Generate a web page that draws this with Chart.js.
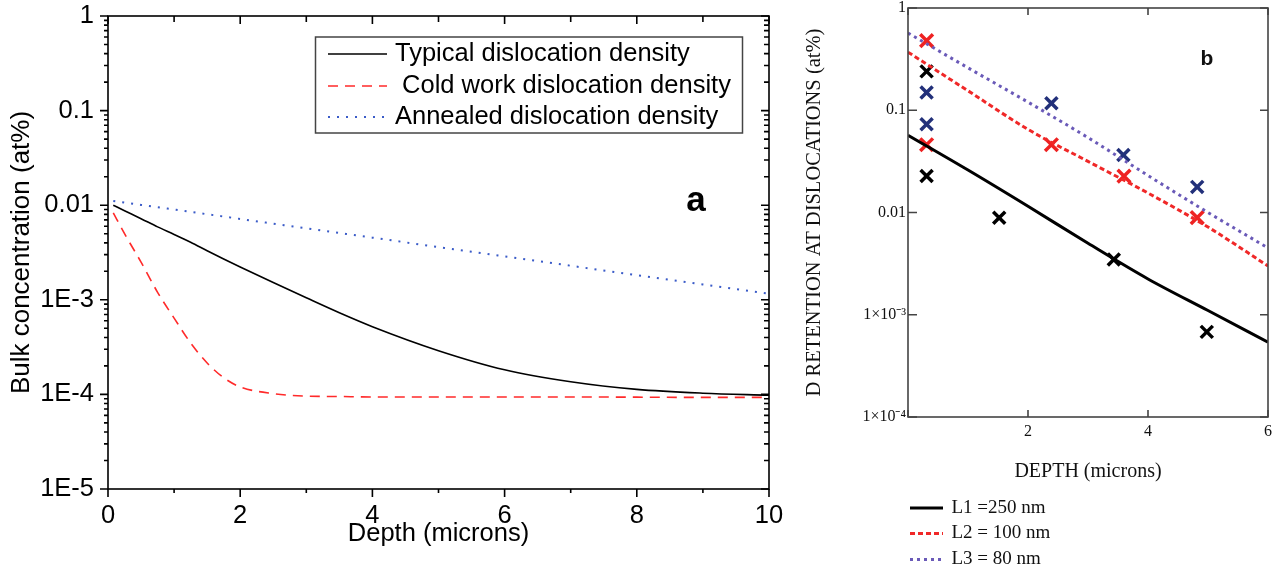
<!DOCTYPE html>
<html>
<head>
<meta charset="utf-8">
<script src="https://cdn.jsdelivr.net/npm/chart.js@4.4.1/dist/chart.umd.min.js"></script>
<style>
  body { margin: 0; background: #fff; }
  #chartA { position: absolute; left: 0; top: 0; }
  #chartB { position: absolute; left: 790px; top: 0; }
</style>
</head>
<body>
<canvas id="chartA" width="790" height="575"></canvas>
<canvas id="chartB" width="495" height="575"></canvas>
<script>
// panel a: bulk concentration vs depth
const depthA = [0.08, 0.25, 0.5, 0.75, 1, 1.25, 1.5, 1.75, 2, 2.5, 3, 3.5, 4, 5, 6, 7, 8, 9, 10];
const typicalConc = [1.0e-2, 8.75e-3, 7.2e-3, 5.9e-3, 4.9e-3, 4.05e-3, 3.3e-3, 2.7e-3, 2.22e-3, 1.52e-3, 1.05e-3, 7.3e-4, 5.2e-4, 2.9e-4, 1.82e-4, 1.36e-4, 1.13e-4, 1.03e-4, 9.8e-5];
const coldWorkConc = [8.3e-3, 5.0e-3, 2.5e-3, 1.2e-3, 6.4e-4, 3.5e-4, 2.15e-4, 1.5e-4, 1.2e-4, 1.02e-4, 9.6e-5, 9.5e-5, 9.4e-5, 9.4e-5, 9.4e-5, 9.4e-5, 9.35e-5, 9.3e-5, 9.3e-5];
const annealedConc = [1.11e-2, 1.067e-2, 1.007e-2, 9.52e-3, 9.0e-3, 8.5e-3, 8.02e-3, 7.58e-3, 7.16e-3, 6.38e-3, 5.70e-3, 5.08e-3, 4.54e-3, 3.61e-3, 2.88e-3, 2.29e-3, 1.82e-3, 1.45e-3, 1.16e-3];
const seriesNamesA = ['Typical dislocation density', ' Cold work dislocation density', 'Annealed dislocation density'];
const yDecadesA = [1e-5, 1e-4, 1e-3, 1e-2, 1e-1, 1];
const yLabelsA = ['1E-5', '1E-4', '1E-3', '0.01', '0.1', '1'];

// panel b: D retention at dislocations vs depth
const depthB = [0, 1, 2, 3, 4, 5, 6];
const l1Fit = [0.057, 0.026, 0.0115, 0.0050, 0.00224, 0.0011, 0.00054];
const l2Fit = [0.37, 0.155, 0.065, 0.0316, 0.0155, 0.0072, 0.0030];
const l3Fit = [0.57, 0.26, 0.12, 0.054, 0.023, 0.0100, 0.0045];
const l1Depth = [0.31, 0.31, 1.52, 3.43, 4.98];
const l1Meas = [0.24, 0.0227, 0.0089, 0.00347, 0.00068];
const l2Depth = [0.31, 0.31, 2.39, 3.6, 4.82];
const l2Meas = [0.48, 0.046, 0.046, 0.0227, 0.0089];
const l3Depth = [0.31, 0.31, 2.39, 3.59, 4.82];
const l3Meas = [0.149, 0.073, 0.117, 0.0365, 0.0178];
const seriesNamesB = ['L1 =250 nm', 'L2 = 100 nm', 'L3 = 80 nm'];
const yDecadesB = [1e-4, 1e-3, 1e-2, 1e-1, 1];
const yLabelsB = ['1\u00d710\u207b\u2074', '1\u00d710\u207b\u00b3', '0.01', '0.1', '1'];

const pts = (xs, ys) => xs.map((x, i) => ({x: x, y: ys[i]}));
const decadeIndex = (list, v) => list.findIndex(d => Math.abs(d - v) / d < 1e-6);

// frame + tick marks; lengths are [major, minor], positive = outward, negative = inward
function makeFrame(cfg) {
  return {
    id: 'frame',
    afterDraw(chart) {
      const {ctx, chartArea: a, scales: {x, y}} = chart;
      ctx.save();
      ctx.strokeStyle = cfg.color;
      ctx.lineWidth = cfg.width;
      ctx.beginPath();
      x.ticks.forEach(t => {
        const px = x.getPixelForValue(t.value);
        const k = t.label !== '' ? 0 : 1;
        ctx.moveTo(px, a.bottom); ctx.lineTo(px, a.bottom + cfg.bottom[k]);
        ctx.moveTo(px, a.top); ctx.lineTo(px, a.top - cfg.top[k]);
      });
      y.ticks.forEach(t => {
        const py = y.getPixelForValue(t.value);
        const k = t.label !== '' ? 0 : 1;
        ctx.moveTo(a.left, py); ctx.lineTo(a.left - cfg.left[k], py);
        ctx.moveTo(a.right, py); ctx.lineTo(a.right + cfg.right[k], py);
      });
      ctx.stroke();
      ctx.strokeRect(a.left, a.top, a.right - a.left, a.bottom - a.top);
      ctx.restore();
    }
  };
}

const legendA = {
  id: 'legendA',
  afterDraw(chart) {
    const ctx = chart.ctx;
    ctx.save();
    ctx.strokeStyle = '#444';
    ctx.lineWidth = 1.5;
    ctx.strokeRect(315.5, 37, 427, 96);
    ctx.font = '25.5px "Liberation Sans", Arial, sans-serif';
    ctx.fillStyle = '#000';
    ctx.textBaseline = 'middle';
    const rows = [54, 86, 117];
    chart.data.datasets.forEach((ds, i) => {
      ctx.strokeStyle = ds.borderColor;
      ctx.lineWidth = ds.borderWidth;
      ctx.setLineDash(ds.borderDash || []);
      ctx.beginPath();
      ctx.moveTo(328, rows[i]);
      ctx.lineTo(387, rows[i]);
      ctx.stroke();
      ctx.setLineDash([]);
      ctx.fillText(ds.label, 395, rows[i]);
    });
    ctx.font = 'bold 35px "Liberation Sans", Arial, sans-serif';
    ctx.textAlign = 'center';
    ctx.textBaseline = 'alphabetic';
    ctx.fillText('a', 696, 211);
    ctx.restore();
  }
};

const legendB = {
  id: 'legendB',
  afterDraw(chart) {
    const ctx = chart.ctx;
    ctx.save();
    ctx.font = '19px "Liberation Serif", "Times New Roman", serif';
    ctx.fillStyle = '#111';
    ctx.textBaseline = 'middle';
    const rows = [508, 533.5, 559.5];
    chart.data.datasets.slice(0, 3).forEach((ds, i) => {
      ctx.strokeStyle = ds.borderColor;
      ctx.lineWidth = 3;
      ctx.setLineDash(ds.borderDash || []);
      ctx.beginPath();
      ctx.moveTo(120, rows[i]);
      ctx.lineTo(153, rows[i]);
      ctx.stroke();
      ctx.setLineDash([]);
      ctx.fillText(ds.label, 161.5, rows[i]);
    });
    ctx.font = 'bold 21px "Liberation Sans", Arial, sans-serif';
    ctx.textAlign = 'center';
    ctx.textBaseline = 'alphabetic';
    ctx.fillText('b', 417, 65);
    ctx.restore();
  }
};

const sansA = (size) => ({family: '"Liberation Sans", Arial, sans-serif', size: size});
const serifB = (size, lh) => ({family: '"Liberation Serif", "Times New Roman", serif', size: size, lineHeight: lh || 1.2});

new Chart(document.getElementById('chartA'), {
  type: 'line',
  data: {
    datasets: [
      {label: seriesNamesA[0], data: pts(depthA, typicalConc), borderColor: '#000', borderWidth: 1.6},
      {label: seriesNamesA[1], data: pts(depthA, coldWorkConc), borderColor: '#ff2a2a', borderWidth: 1.6, borderDash: [10, 7]},
      {label: seriesNamesA[2], data: pts(depthA, annealedConc), borderColor: '#3a5bc8', borderWidth: 2, borderDash: [2, 7]}
    ]
  },
  options: {
    responsive: false,
    animation: false,
    events: [],
    layout: {autoPadding: false, padding: {left: 0, top: 16, right: 21, bottom: 0}},
    elements: {point: {radius: 0}, line: {cubicInterpolationMode: 'monotone', fill: false}},
    plugins: {legend: {display: false}, tooltip: {enabled: false}},
    scales: {
      x: {
        type: 'linear', min: 0, max: 10,
        grid: {display: false, drawTicks: true, tickLength: 12},
        border: {display: false},
        afterFit: s => { s.height = 86; },
        ticks: {stepSize: 1, autoSkip: false, maxRotation: 0, padding: 0, color: '#000', font: sansA(25.5),
          callback: v => (v % 2 === 0 ? String(v) : '')},
        title: {display: true, text: 'Depth (microns)', color: '#000', font: sansA(25.5), padding: {top: 0, bottom: 26}}
      },
      y: {
        type: 'logarithmic', min: 1e-5, max: 1,
        grid: {display: false, drawTicks: true, tickLength: 14},
        border: {display: false},
        afterFit: s => { s.width = 108; },
        afterBuildTicks: s => {
          const t = [];
          for (let e = -5; e <= 0; e++) {
            for (let m = 1; m <= 9; m++) {
              if (e === 0 && m > 1) break;
              t.push({value: m * Math.pow(10, e)});
            }
          }
          s.ticks = t;
        },
        ticks: {autoSkip: false, padding: 0, color: '#000', font: sansA(25.5),
          callback: v => { const i = decadeIndex(yDecadesA, v); return i >= 0 ? yLabelsA[i] : ''; }},
        title: {display: true, text: 'Bulk concentration (at%)', color: '#000', font: sansA(26), padding: {top: 6, bottom: 0}}
      }
    }
  },
  plugins: [makeFrame({color: '#000', width: 1.6, bottom: [8, 4], top: [-8, -6], left: [8, 4], right: [-8, -5]}), legendA]
});

new Chart(document.getElementById('chartB'), {
  type: 'line',
  data: {
    datasets: [
      {label: seriesNamesB[0], data: pts(depthB, l1Fit), borderColor: '#000', borderWidth: 3},
      {label: seriesNamesB[1], data: pts(depthB, l2Fit), borderColor: '#f02828', borderWidth: 3, borderDash: [5, 3]},
      {label: seriesNamesB[2], data: pts(depthB, l3Fit), borderColor: '#6a5ab8', borderWidth: 3, borderDash: [3, 4]},
      {label: 'L1 data', data: pts(l1Depth, l1Meas), showLine: false, pointStyle: 'crossRot', pointRadius: 8.5, pointBorderWidth: 3.5, borderColor: '#000'},
      {label: 'L2 data', data: pts(l2Depth, l2Meas), showLine: false, pointStyle: 'crossRot', pointRadius: 9, pointBorderWidth: 3.5, borderColor: '#ee2222'},
      {label: 'L3 data', data: pts(l3Depth, l3Meas), showLine: false, pointStyle: 'crossRot', pointRadius: 8.5, pointBorderWidth: 3.5, borderColor: '#22307a'}
    ]
  },
  options: {
    responsive: false,
    animation: false,
    events: [],
    layout: {autoPadding: false, padding: {left: 0, top: 8, right: 17, bottom: 0}},
    elements: {point: {radius: 0}, line: {cubicInterpolationMode: 'monotone', fill: false}},
    plugins: {legend: {display: false}, tooltip: {enabled: false}},
    scales: {
      x: {
        type: 'linear', min: 0, max: 6,
        grid: {display: false, drawTicks: true, tickLength: 6.5},
        border: {display: false},
        afterFit: s => { s.height = 158; },
        ticks: {stepSize: 2, autoSkip: false, maxRotation: 0, padding: 0, color: '#111', font: serifB(16, 1),
          callback: v => (v === 0 ? '' : String(v))},
        title: {display: true, text: 'DEPTH (microns)', color: '#111', font: serifB(20), padding: {top: 0, bottom: 91}}
      },
      y: {
        type: 'logarithmic', min: 1e-4, max: 1,
        grid: {display: false, drawTicks: true, tickLength: 2},
        border: {display: false},
        afterFit: s => { s.width = 118; },
        afterBuildTicks: s => { s.ticks = yDecadesB.map(v => ({value: v})); },
        ticks: {autoSkip: false, padding: 0, color: '#111', font: serifB(16, 0.5),
          callback: v => { const i = decadeIndex(yDecadesB, v); return i >= 0 ? yLabelsB[i] : ''; }},
        title: {display: true, text: 'D RETENTION AT DISLOCATIONS (at%)', color: '#111', font: serifB(20.5), padding: {top: 12.7, bottom: 0}}
      }
    }
  },
  plugins: [makeFrame({color: '#444', width: 1.6, bottom: [-7, -7], top: [-7, -7], left: [-9, -9], right: [-8, -8]}), legendB]
});
</script>
</body>
</html>
